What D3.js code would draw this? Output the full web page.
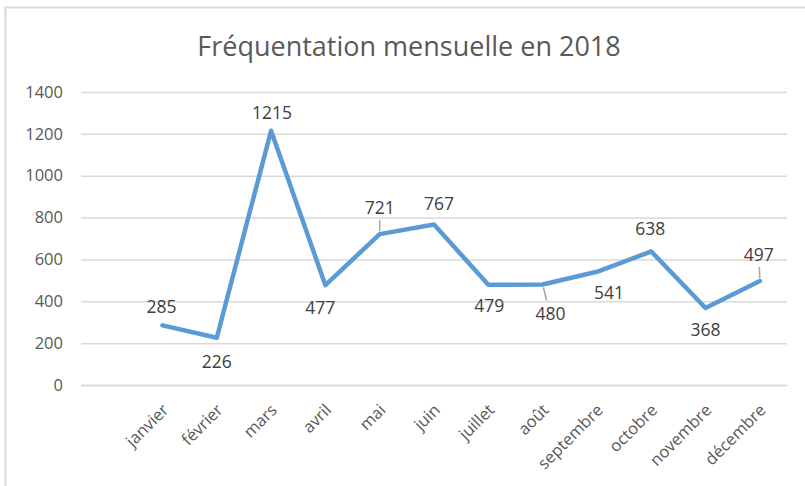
<!DOCTYPE html>
<html>
<head>
<meta charset="utf-8">
<script src="https://cdn.jsdelivr.net/npm/d3@7"></script>
<style>
  body { margin: 0; background: #fff; }
  text { font-family: "Open Sans", "Noto Sans", sans-serif; }
</style>
</head>
<body>
<div id="chart"></div>
<script>
// Categories (Excel sheet had an empty first category)
const months = ["", "janvier", "février", "mars", "avril", "mai", "juin",
  "juillet", "août", "septembre", "octobre", "novembre", "décembre"];
const visits = [null, 285, 226, 1215, 477, 721, 767, 479, 480, 541, 638, 368, 497];
const yTicks = [0, 200, 400, 600, 800, 1000, 1200, 1400];

// Data label offsets from the point (dx, dy) and whether a leader line is drawn
const labelOffsets = [null, [-1, -18], [0, 24], [1, -18], [-5, 23], [0, -26], [5, -21],
  [1, 21], [8, 29], [12, 21], [-1, -23], [0, 22], [-1, -26]];
const leaders = [false, false, false, false, false, true, false, false, true, false, false, false, true];

const width = 805;
const height = 486;
const margin = { top: 92, right: 18, bottom: 101, left: 81 };

const svg = d3.select("#chart")
  .append("svg")
  .attr("width", width)
  .attr("height", height);

// Chart frame (only top and left edges fall inside the picture)
svg.append("rect")
  .attr("x", 5.5).attr("y", 7.5)
  .attr("width", width + 20).attr("height", height + 20)
  .attr("fill", "none")
  .attr("stroke", "#d9d9d9")
  .attr("stroke-width", 2);

svg.append("text")
  .attr("x", 409)
  .attr("y", 56)
  .attr("text-anchor", "middle")
  .attr("font-size", 27)
  .attr("fill", "#595959")
  .text("Fréquentation mensuelle en 2018");

const x = d3.scaleBand()
  .domain(d3.range(months.length))
  .range([margin.left, width - margin.right]);

const y = d3.scaleLinear()
  .domain([0, 1400])
  .range([height - margin.bottom, margin.top]);

// Gridlines + y labels
const yAxis = svg.append("g")
  .attr("transform", `translate(${margin.left}, 0)`)
  .call(d3.axisLeft(y).tickValues(yTicks).tickFormat(d3.format("d"))
    .tickSize(-(width - margin.right - margin.left))
    .tickPadding(18));
yAxis.select(".domain").remove();
yAxis.selectAll("line").attr("stroke", "#d9d9d9").attr("stroke-width", 1.5);
yAxis.selectAll("text").attr("font-size", 16.5).attr("fill", "#595959")
  .attr("font-family", "\"Open Sans\", sans-serif");

// X axis (baseline + rotated labels)
const xAxis = svg.append("g")
  .attr("transform", `translate(0, ${height - margin.bottom})`)
  .call(d3.axisBottom(x).tickFormat(i => months[i]).tickSize(0));
xAxis.select(".domain").attr("stroke", "#d9d9d9").attr("stroke-width", 1.5);
xAxis.selectAll("text")
  .attr("font-size", 16.5)
  .attr("fill", "#595959")
  .attr("font-family", "\"Open Sans\", sans-serif")
  .attr("text-anchor", "end")
  .attr("transform", "translate(3, 22) rotate(-45)")
  .attr("x", 0).attr("y", 0).attr("dy", "0.35em");

const idx = d3.range(months.length).filter(i => visits[i] != null);
const px = i => x(i) + x.bandwidth() / 2;

const line = d3.line()
  .x(i => px(i))
  .y(i => y(visits[i]));

svg.append("path")
  .datum(idx)
  .attr("d", line)
  .attr("fill", "none")
  .attr("stroke", "#5b9bd5")
  .attr("stroke-width", 4.5)
  .attr("stroke-linejoin", "round")
  .attr("stroke-linecap", "round");

// Leader lines
svg.selectAll(".leader")
  .data(idx.filter(i => leaders[i]))
  .enter()
  .append("line")
  .attr("class", "leader")
  .attr("x1", i => px(i) + labelOffsets[i][0] * 0.1)
  .attr("y1", i => y(visits[i]) + Math.sign(labelOffsets[i][1]) * 3)
  .attr("x2", i => px(i) + labelOffsets[i][0] * 0.5)
  .attr("y2", i => y(visits[i]) + labelOffsets[i][1] * 0.55)
  .attr("stroke", "#a6a6a6")
  .attr("stroke-width", 1.5);

// Data labels
svg.selectAll(".lbl")
  .data(idx)
  .enter()
  .append("text")
  .attr("class", "lbl")
  .attr("x", i => px(i) + labelOffsets[i][0])
  .attr("y", i => y(visits[i]) + labelOffsets[i][1])
  .attr("dy", "0.35em")
  .attr("text-anchor", "middle")
  .attr("font-size", 17.5)
  .attr("fill", "#404040")
  .text(i => visits[i]);
</script>
</body>
</html>
